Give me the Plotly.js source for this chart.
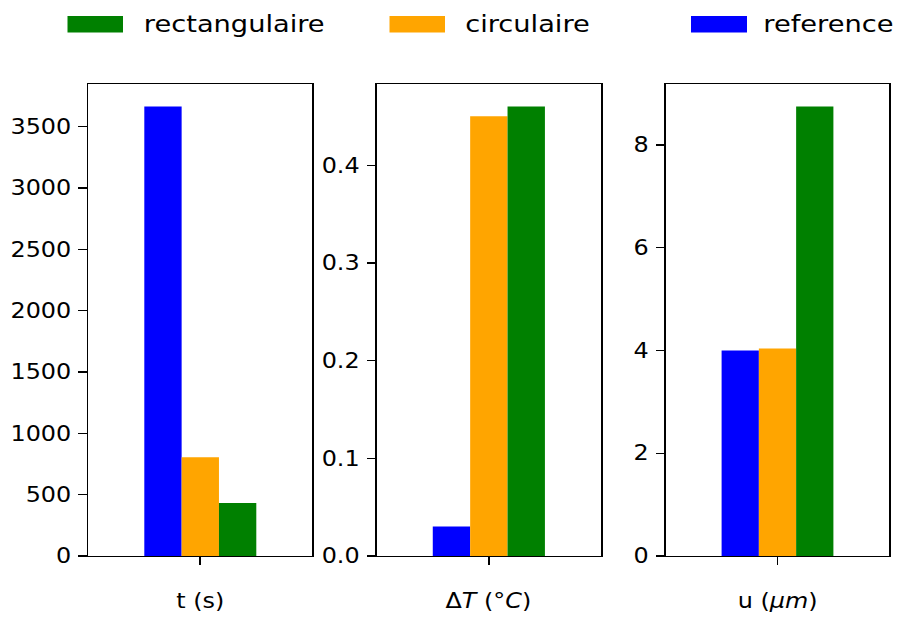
<!DOCTYPE html>
<html>
<head>
<meta charset="utf-8">
<script src="https://cdn.plot.ly/plotly-3.0.1.min.js"></script>
<style>
  html, body { margin: 0; padding: 0; background: #ffffff; overflow: hidden; }
  /* the figure is drawn narrower and widened horizontally to its final width */
  #chart { transform-origin: 0 0; }
</style>
</head>
<body>
<div id="chart"></div>
<script>
// Series (one bar per series in every panel)
const seriesNames  = ['reference', 'circulaire', 'rectangulaire'];
const seriesColors = ['#0000ff', '#ffa500', '#008000'];

// Quantities compared, one panel each
const quantities     = ['t (s)', 'ΔT (°C)', 'u (μm)'];
const quantityTitles = ['t (s)', 'Δ<i>T</i> (°<i>C</i>)', 'u (<i>μm</i>)'];

// Values per panel, in series order: reference, circulaire, rectangulaire
const tempsValues       = [3665, 806, 432];
const deltaTValues      = [0.0302, 0.4505, 0.4605];
const deplacementValues = [4.00, 4.04, 8.75];

// Y tick spacing and label format per panel
const tickSteps   = [500, 0.1, 2];
const tickFormats = ['d', '.1f', 'd'];

// Legend entries, left to right
const legendOrder = ['rectangulaire', 'circulaire', 'reference'];

const panelValues = [tempsValues, deltaTValues, deplacementValues];

// ---- page geometry ----
const W = 899, H = 617;
const STRETCH = 1.16;                 // horizontal widening of the whole figure
const plotW = W / STRETCH;
const panelPx = [[88.3, 312.3], [376.7, 601.0], [665.7, 889.3]];
const plotTop = 84, plotBottom = 556;
const legendPx = [ // patch x0, patch x1, text x
  [67.5, 123, 142.5],
  [389.5, 445, 464.5],
  [691, 747, 762.5]
];
const legendPatchY = [16, 32.5];
const font = 'DejaVu Sans, Verdana, sans-serif';
const tickSize = 20.6, legendSize = 23.5;

const px2x = v => v / W;
const px2y = v => 1 - v / H;

const chartDiv = document.getElementById('chart');
chartDiv.style.width = plotW + 'px';
chartDiv.style.height = H + 'px';
chartDiv.style.transform = 'scaleX(' + STRETCH + ')';

const traces = [];
const layout = {
  width: plotW, height: H, autosize: false,
  margin: { l: 0, r: 0, t: 0, b: 0, pad: 0 },
  paper_bgcolor: '#ffffff', plot_bgcolor: '#ffffff',
  barmode: 'group', bargap: 0.5, bargroupgap: 0,
  showlegend: false,
  font: { family: font, color: '#000000' },
  shapes: [], annotations: []
};

panelValues.forEach((vals, p) => {
  const sfx = p === 0 ? '' : String(p + 1);
  seriesNames.forEach((name, s) => {
    traces.push({
      type: 'bar',
      name: name,
      x: [quantities[p]],
      y: [vals[s]],
      marker: { color: seriesColors[s], line: { width: 0 } },
      xaxis: 'x' + sfx, yaxis: 'y' + sfx,
      hoverinfo: 'name+y'
    });
  });

  const maxVal = Math.max(...vals);
  const axisCommon = {
    showline: true, mirror: true, linecolor: '#000000', linewidth: 1.4,
    ticks: 'outside', ticklen: 7.2, tickwidth: 1.4, tickcolor: '#000000',
    showgrid: false, zeroline: false, fixedrange: true
  };
  layout['xaxis' + sfx] = Object.assign({}, axisCommon, {
    type: 'category',
    domain: [px2x(panelPx[p][0]), px2x(panelPx[p][1])],
    anchor: 'y' + sfx,
    showticklabels: false
  });
  layout['yaxis' + sfx] = Object.assign({}, axisCommon, {
    domain: [px2y(plotBottom), px2y(plotTop)],
    anchor: 'x' + sfx,
    range: [0, maxVal * 1.05],
    tick0: 0, dtick: tickSteps[p],
    tickformat: tickFormats[p],
    ticklabelstandoff: 2,
    tickfont: { family: font, size: tickSize, color: '#000000' }
  });

  layout.annotations.push({
    xref: 'x' + sfx + ' domain', yref: 'paper',
    x: 0.5, y: px2y(601),
    xanchor: 'center', yanchor: 'middle',
    text: quantityTitles[p], showarrow: false,
    font: { family: font, size: tickSize, color: '#000000' }
  });
});

// Legend: coloured patches with labels along the top
legendOrder.forEach((name, i) => {
  const s = seriesNames.indexOf(name);
  const [x0, x1, tx] = legendPx[i];
  layout.shapes.push({
    type: 'rect', xref: 'paper', yref: 'paper',
    x0: px2x(x0), x1: px2x(x1),
    y0: px2y(legendPatchY[1]), y1: px2y(legendPatchY[0]),
    fillcolor: seriesColors[s], line: { width: 0 }
  });
  layout.annotations.push({
    xref: 'paper', yref: 'paper',
    x: px2x(tx), y: px2y((legendPatchY[0] + legendPatchY[1]) / 2),
    xanchor: 'left', yanchor: 'middle',
    text: name, showarrow: false, borderpad: 0,
    font: { family: font, size: legendSize, color: '#000000' }
  });
});

Plotly.newPlot(chartDiv, traces, layout, { displayModeBar: false, staticPlot: true });
</script>
</body>
</html>
